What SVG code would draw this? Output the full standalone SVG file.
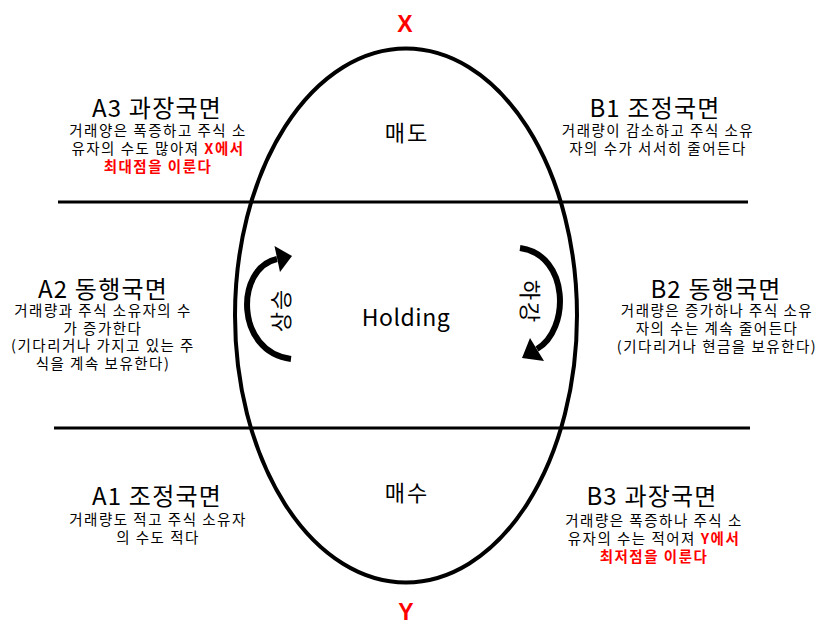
<svg xmlns="http://www.w3.org/2000/svg" width="825" height="641" viewBox="0 0 825 641">
<style>
text{font-family:"Noto Sans CJK KR","Liberation Sans",sans-serif;text-anchor:middle;fill:#000}
.t{font-size:24px;letter-spacing:1.2px}
.d{font-size:14.5px;letter-spacing:1.5px}
.r{fill:#ff0000;font-weight:bold}
.c{font-size:22px;letter-spacing:2px}
.h{font-size:23px;letter-spacing:0.5px}
.xy{font-family:"Liberation Sans","Noto Sans CJK KR",sans-serif;font-size:23px;font-weight:bold;fill:#ff0000}
.ln{stroke:#000;stroke-width:3;fill:none}
.arc{stroke:#000;stroke-width:6;fill:none}
</style>
<rect width="825" height="641" fill="#fff"/>
<g id="frame">
<ellipse cx="406" cy="315.5" rx="171" ry="267" fill="none" stroke="#000" stroke-width="4"/>
</g>
<g id="connectors">
<line class="ln" x1="58" y1="202" x2="748" y2="202"/>
<line class="ln" x1="54" y1="428" x2="750" y2="428"/>
<path class="arc" d="M291 359 C235 352 235 268 277 259"/>
<polygon points="274.5,246 280,272 292,256" fill="#000"/>
<path class="arc" d="M520 248 C570 255 570 330 537 349"/>
<polygon points="530,338 544,361 522,358" fill="#000"/>
</g>
<g id="X"><text class="xy" x="405" y="32">X</text></g>
<g id="Y"><text class="xy" x="406" y="620">Y</text></g>
<g id="sell"><text class="c" x="407" y="141">매도</text></g>
<g id="holding"><text class="h" x="406" y="326">Holding</text></g>
<g id="buy"><text class="c" x="407" y="501">매수</text></g>
<g id="up"><text class="c" transform="translate(281,311) rotate(-90)" x="1" y="8">상승</text></g>
<g id="down"><text class="c" transform="translate(530,301) rotate(90)" x="1" y="8">하강</text></g>
<g id="A3">
<text class="t" x="157" y="117">A3 과장국면</text>
<text class="d" x="158" y="136">거래양은 폭증하고 주식 소</text>
<text class="d" x="158" y="154">유자의 수도 많아져 <tspan class="r">X에서</tspan></text>
<text class="d r" x="158" y="172">최대점을 이룬다</text>
</g>
<g id="B1">
<text class="t" x="655" y="117">B1 조정국면</text>
<text class="d" x="658" y="136">거래량이 감소하고 주식 소유</text>
<text class="d" x="658" y="154">자의 수가 서서히 줄어든다</text>
</g>
<g id="A2">
<text class="t" x="103" y="298">A2 동행국면</text>
<text class="d" x="103" y="316">거래량과 주식 소유자의 수</text>
<text class="d" x="103" y="334">가 증가한다</text>
<text class="d" x="103" y="351">(기다리거나 가지고 있는 주</text>
<text class="d" x="103" y="369">식을 계속 보유한다)</text>
</g>
<g id="B2">
<text class="t" x="716" y="298">B2 동행국면</text>
<text class="d" x="717" y="316">거래량은 증가하나 주식 소유</text>
<text class="d" x="717" y="334">자의 수는 계속 줄어든다</text>
<text class="d" x="717" y="352">(기다리거나 현금을 보유한다)</text>
</g>
<g id="A1">
<text class="t" x="157" y="505">A1 조정국면</text>
<text class="d" x="158" y="525">거래량도 적고 주식 소유자</text>
<text class="d" x="158" y="543">의 수도 적다</text>
</g>
<g id="B3">
<text class="t" x="652" y="505">B3 과장국면</text>
<text class="d" x="654" y="526">거래량은 폭증하나 주식 소</text>
<text class="d" x="654" y="544">유자의 수는 적어져 <tspan class="r">Y에서</tspan></text>
<text class="d r" x="654" y="562">최저점을 이룬다</text>
</g>
</svg>
